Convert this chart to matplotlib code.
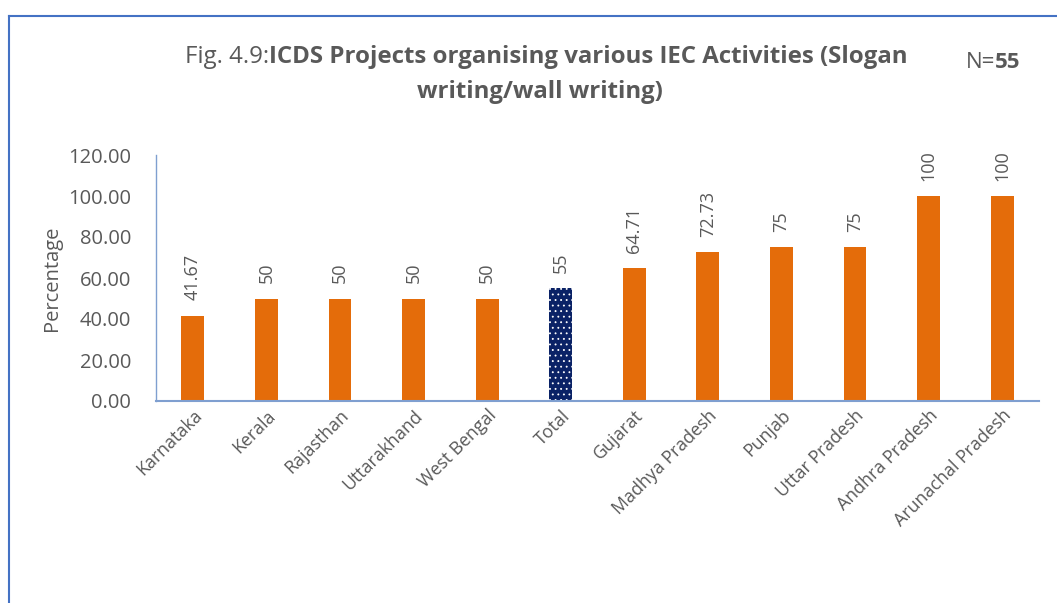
import matplotlib
matplotlib.use("Agg")
import matplotlib.pyplot as plt
from matplotlib.lines import Line2D

plt.rcParams['font.family'] = ['Open Sans', 'DejaVu Sans']
plt.rcParams['hatch.linewidth'] = 0.6

# Data
states = ["Karnataka", "Kerala", "Rajasthan", "Uttarakhand", "West Bengal", "Total",
          "Gujarat", "Madhya Pradesh", "Punjab", "Uttar Pradesh", "Andhra Pradesh",
          "Arunachal Pradesh"]
values = [41.67, 50, 50, 50, 50, 55, 64.71, 72.73, 75, 75, 100, 100]
value_labels = ["41.67", "50", "50", "50", "50", "55", "64.71", "72.73", "75", "75", "100", "100"]
y_ticks = [0, 20, 40, 60, 80, 100, 120]

ORANGE = "#E46C0A"
NAVY = "#0A2266"
TEXT = "#595959"
BLUE = "#4472C4"
AXIS = "#7F9FD0"

fig = plt.figure(figsize=(10.57, 6.03), dpi=100)
ax = fig.add_axes([156 / 1057, 1 - 401 / 603, 883 / 1057, 246 / 603])

x = list(range(len(states)))
bars = ax.bar(x, values, width=0.31, color=ORANGE, zorder=2)
total_idx = states.index("Total")
tb = bars[total_idx]
tb.set_facecolor(NAVY)
tb.set_edgecolor("white")
tb.set_linewidth(0)
tb.set_hatch("...")

for xi, v, lab in zip(x, values, value_labels):
    ax.annotate(lab, (xi, v), xytext=(0, 11), textcoords="offset points",
                rotation=90, ha="center", va="bottom", fontsize=13, color=TEXT)

ax.set_xlim(-0.5, len(states) - 0.5)
ax.set_ylim(0, 120)
ax.set_yticks(y_ticks)
ax.set_yticklabels([f"{t:.2f}" for t in y_ticks], fontsize=14.5, color=TEXT)
ax.set_xticks(x)
ax.set_xticklabels(states, rotation=45, ha="right", rotation_mode="anchor",
                   fontsize=12.8, color=TEXT)
ax.tick_params(axis="both", length=0)
ax.tick_params(axis="y", pad=18)
ax.tick_params(axis="x", pad=4)
for s in ("top", "right"):
    ax.spines[s].set_visible(False)
ax.spines["left"].set_color(AXIS)
ax.spines["bottom"].set_color(AXIS)
ax.spines["left"].set_linewidth(1.0)
ax.spines["bottom"].set_linewidth(1.5)
ax.set_ylabel("Percentage", fontsize=14.5, color=TEXT, labelpad=4)

# Title: regular prefix followed by bold text
TFS = 17.3
title_y = 1 - 57 / 603
fig.text(185 / 1057, title_y, "Fig. 4.9:", fontsize=TFS, color=TEXT,
         ha="left", va="center")
t1 = fig.text(0, 0, "Fig. 4.9:", fontsize=TFS)
fig.canvas.draw()
w = t1.get_window_extent().width
t1.remove()
fig.text((185 + w) / 1057, title_y,
         "ICDS Projects organising various IEC Activities (Slogan",
         fontsize=TFS, fontweight="bold", color=TEXT, ha="left", va="center")
fig.text(540 / 1057, 1 - 92 / 603, "writing/wall writing)", fontsize=TFS,
         fontweight="bold", color=TEXT, ha="center", va="center")

# Sample size note
NFS = 16
n1 = fig.text(0, 0, "N=", fontsize=NFS)
fig.canvas.draw()
nw = n1.get_window_extent().width
n1.remove()
fig.text(966 / 1057, 1 - 62 / 603, "N=", fontsize=NFS, color=TEXT, ha="left", va="center")
fig.text((966 + nw) / 1057, 1 - 62 / 603, "55", fontsize=NFS, fontweight="bold",
         color=TEXT, ha="left", va="center")

# Chart frame
fig.add_artist(Line2D([9 / 1057, 1.0], [1 - 16 / 603] * 2, color=BLUE, lw=1.5,
                      transform=fig.transFigure))
fig.add_artist(Line2D([9 / 1057] * 2, [0, 1 - 16 / 603], color=BLUE, lw=1.5,
                      transform=fig.transFigure))

fig.savefig("out.png", dpi=100)
